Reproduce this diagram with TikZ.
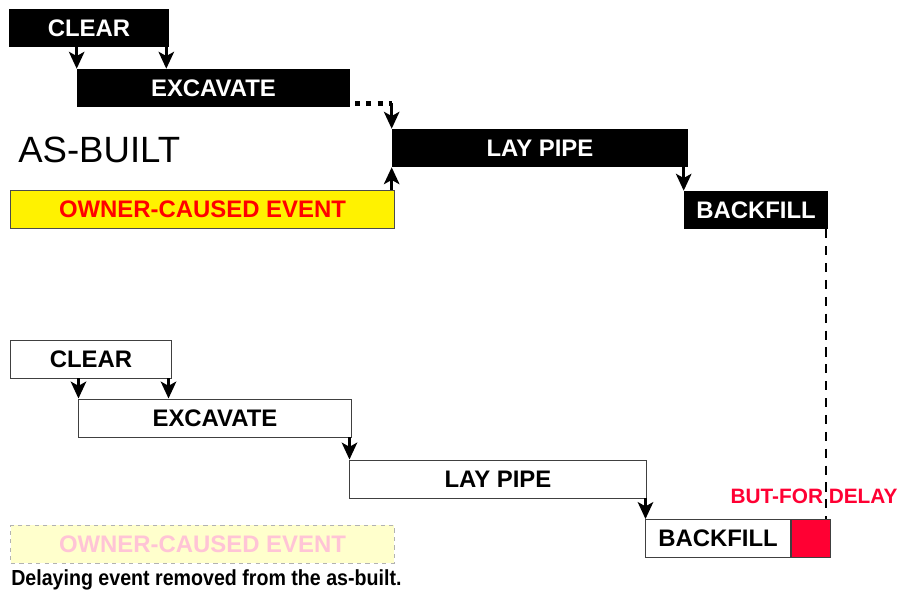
\documentclass[tikz,border=0pt]{standalone}
\usepackage{fontspec}
\setmainfont{Liberation Sans}
\newfontfamily\tightfont[FakeStretch=0.9]{Liberation Sans}
\usetikzlibrary{arrows.meta}

\definecolor{delayred}{HTML}{FF0033}
\definecolor{fadeyellow}{HTML}{FFFFCC}
\definecolor{fadepink}{HTML}{FFC4D6}

\tikzset{
  lbl/.style={font=\fontsize{17}{18}\selectfont\bfseries, inner sep=0pt, minimum height=0.95cm},
  blackbar/.style={lbl, fill=black, text=white},
  whitebar/.style={lbl, fill=white, draw=black!75, line width=0.7pt},
}

\begin{document}
\begin{tikzpicture}[x=0.025cm,y=-0.025cm]
      \useasboundingbox (0,0) rectangle (903,590);
      % as-built
      \begin{scope}[every node/.style={blackbar}]
        \node[minimum width=4cm] (clearA) at (89,28) {CLEAR};
        \node[minimum width=6.825cm] (excA) at (213.5,88) {EXCAVATE};
        \node[minimum width=7.4cm] (layA) at (540,148) {LAY PIPE};
        \node[minimum width=3.6cm] (backA) at (756,210) {BACKFILL};
      \end{scope}
      \node[anchor=west, inner sep=0pt, font=\fontsize{26}{30}\selectfont] (asbuilt) at (18,150) {AS-BUILT};
      \node[lbl, fill=yellow, draw=black!70, line width=0.7pt, text=red, minimum width=9.575cm] (ownerA) at (202.5,209) {OWNER-CAUSED EVENT};
      % but-for
      \begin{scope}[every node/.style={whitebar}]
        \node[minimum width=4cm] (clearB) at (91,359) {CLEAR};
        \node[minimum width=6.8cm] (excB) at (215,418) {EXCAVATE};
        \node[minimum width=7.4cm] (layB) at (498,479) {LAY PIPE};
        \node[minimum width=3.6cm] (backB) at (718,538.5) {BACKFILL};
        \node[fill=delayred, minimum width=0.975cm, anchor=west] (delay) at (backB.east) {};
      \end{scope}
      \node[font=\fontsize{14.8}{16}\selectfont\bfseries, text=delayred, inner sep=0pt] (butfor) at (814,496) {BUT-FOR DELAY};
      \node[lbl, fill=fadeyellow, draw=black!30, dashed, line width=0.7pt, text=fadepink, minimum width=9.575cm] (ownerB) at (202.5,544) {OWNER-CAUSED EVENT};
      \node[anchor=base west, inner sep=0pt, font=\tightfont\fontsize{15.5}{17}\selectfont\bfseries] (caption) at (11,585) {Delaying event removed from the as-built.};
      \coordinate (bend) at ([yshift=0.1cm]layA.north west |- excA.south east);
      \begin{scope}[every edge/.style={draw, line width=2pt, -{Stealth[length=12pt,width=11pt,inset=3pt]}}]
        \path (excA.north west |- clearA.south) edge (excA.north west);
        \path ([xshift=-0.075cm]clearA.south east) edge ([xshift=-0.075cm]clearA.south east |- excA.north);
        \path (bend) edge (layA.north west);
        \path (layA.south west |- ownerA.north) edge (layA.south west);
        \path (backA.north west |- layA.south) edge (backA.north west);
        \path (excB.north west |- clearB.south) edge (excB.north west);
        \path ([xshift=-0.075cm]clearB.south east) edge ([xshift=-0.075cm]clearB.south east |- excB.north);
        \path (layB.north west |- excB.south) edge (layB.north west);
        \path (backB.north west |- layB.south) edge (backB.north west);
      \end{scope}
      \draw[line width=3.5pt, dash pattern=on 3.5pt off 4.5pt, dash phase=4.5pt] ([yshift=0.1cm]excA.south east) -- (bend);
      \draw[line width=1.5pt, dash pattern=on 6.5pt off 5.5pt] ([xshift=-0.05cm]backA.south east) -- ([xshift=-0.05cm]backA.south east |- delay.north);
    \end{tikzpicture}
\end{document}
